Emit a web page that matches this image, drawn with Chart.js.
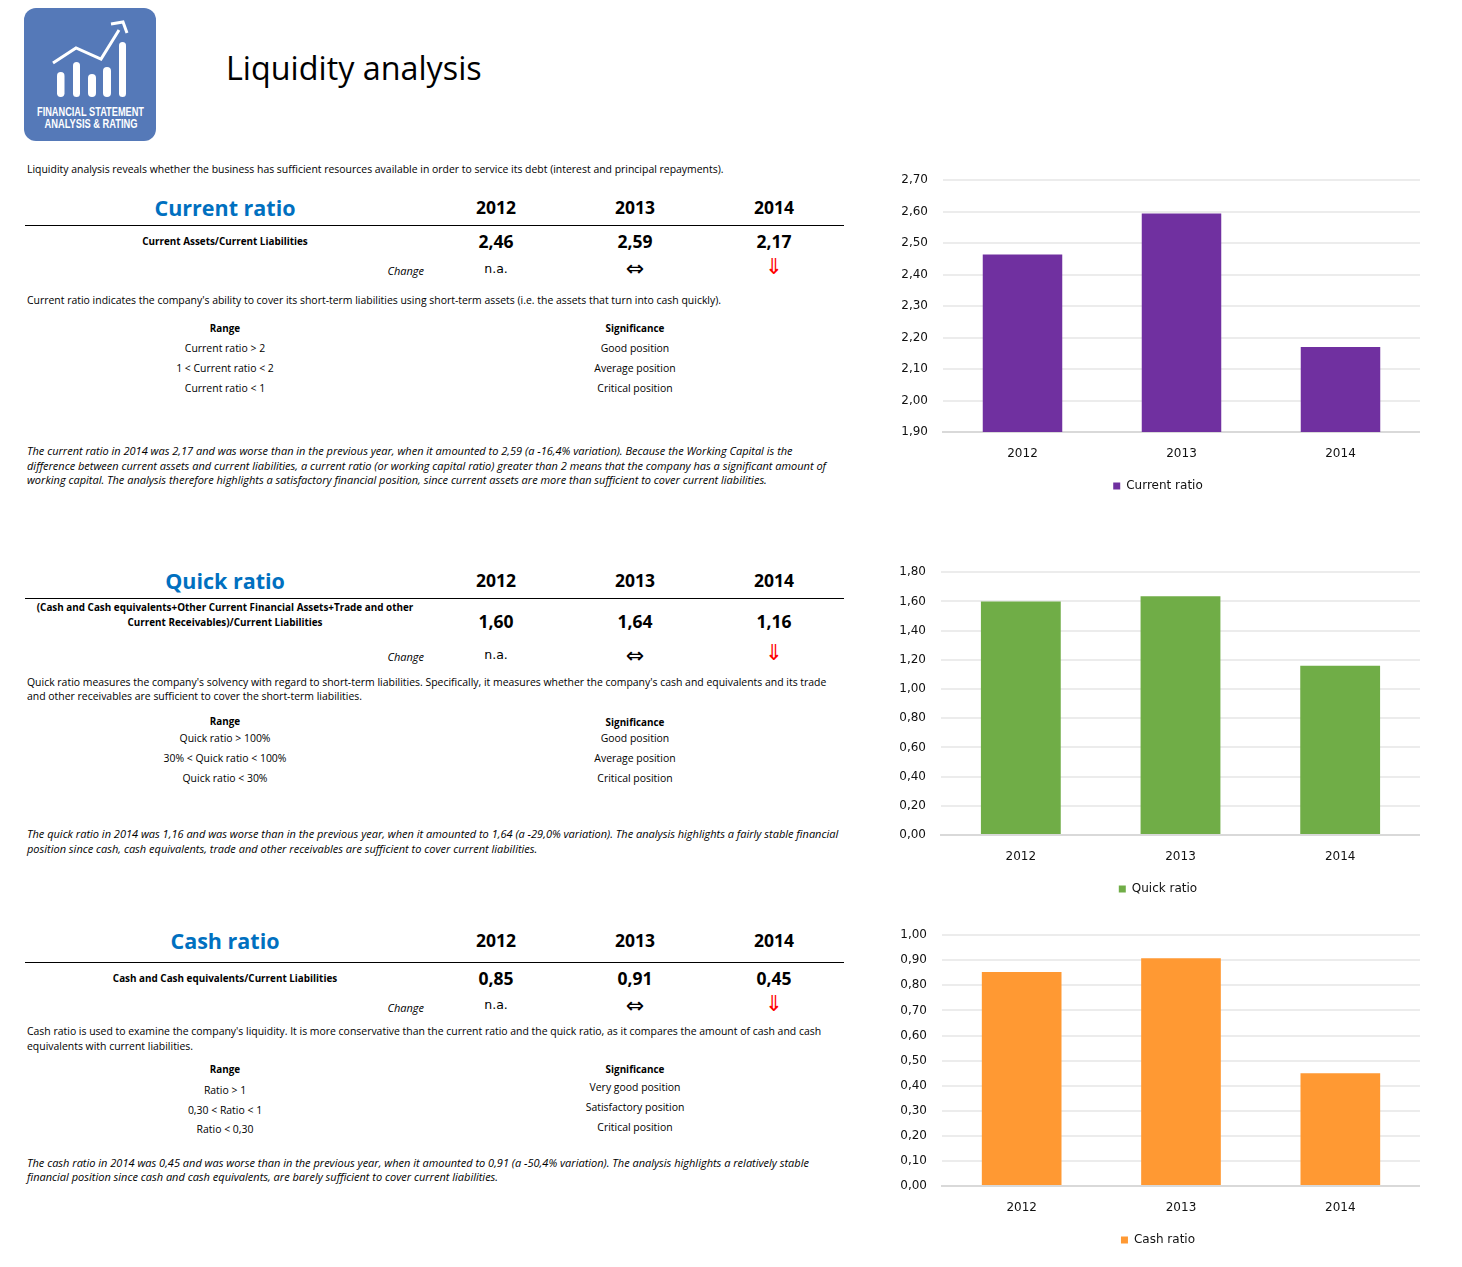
<!DOCTYPE html>
<html>
<head>
<meta charset="utf-8">
<title>Liquidity analysis</title>
<script src="https://cdn.jsdelivr.net/npm/chart.js@4/dist/chart.umd.min.js"></script>
<style>
  body { margin: 0; background: #fff; font-family: "Open Sans", sans-serif; color: #000; }
  #page { position: relative; width: 1462px; height: 1267px; overflow: hidden; }
  #page canvas { position: absolute; }
  .t { position: absolute; white-space: nowrap; font-size: 10.45px; line-height: 16px; transform: translateY(-50%); }
  .c { transform: translate(-50%, -50%); }
  .r { transform: translate(-100%, -50%); }
  .b { font-weight: 700; font-size: 9.9px; }
  .i { font-style: italic; font-size: 11px; }
  .title { font-size: 32.3px; line-height: 40px; }
  .head { font-size: 21.5px; line-height: 30px; font-weight: 700; color: #0070c0; }
  .num { font-size: 17.5px; line-height: 22px; font-weight: 700; }
  .na { font-family: "DejaVu Sans", sans-serif; font-size: 12.5px; }
  .arrow { font-family: "DejaVu Sans", sans-serif; font-size: 22px; line-height: 20px; }
  .down { color: #ff0000; }
  .rule { position: absolute; left: 25px; width: 819px; height: 1px; background: #000; }
</style>
</head>
<body>
<div id="page">
  <svg style="position:absolute;left:24px;top:8px" width="132" height="133" viewBox="0 0 132 133">
    <rect width="132" height="133" rx="12" fill="#5579b8"/>
    <g fill="#fff">
      <rect x="33" y="64" width="7.5" height="25" rx="3.7"/>
      <rect x="49" y="54" width="7" height="35" rx="3.5"/>
      <rect x="64" y="66" width="8" height="23" rx="4"/>
      <rect x="79" y="59" width="8" height="30" rx="4"/>
      <rect x="95" y="34" width="7" height="55" rx="3.5"/>
    </g>
    <path d="M29 55 L52 40 L77 51 L95 22 M87 16 L99 14 L103 25" fill="none" stroke="#fff" stroke-width="3"/>
    <text x="66.5" y="108" text-anchor="middle" fill="#fff" font-family="Liberation Sans Narrow, Liberation Sans" font-weight="700" font-size="12.5" textLength="107" lengthAdjust="spacingAndGlyphs">FINANCIAL STATEMENT</text>
    <text x="67" y="120" text-anchor="middle" fill="#fff" font-family="Liberation Sans Narrow, Liberation Sans" font-weight="700" font-size="12.5" textLength="93" lengthAdjust="spacingAndGlyphs">ANALYSIS &amp; RATING</text>
  </svg>
  <canvas id="currentChart" style="left:896px;top:158px"></canvas>
  <canvas id="quickChart" style="left:896px;top:550px"></canvas>
  <canvas id="cashChart" style="left:896px;top:913px"></canvas>
</div>
<script>
const years = ['2012', '2013', '2014'];
const currentRatio = [2.464, 2.594, 2.17];
const quickRatio = [1.60, 1.636, 1.16];
const cashRatio = [0.853, 0.908, 0.45];

const currentTicks = { min: 1.9, max: 2.7, step: 0.1 };
const quickTicks = { min: 0, max: 1.8, step: 0.2 };
const cashTicks = { min: 0, max: 1, step: 0.1 };

const comma = v => Number(v).toFixed(2).replace('.', ',');
const page = document.getElementById('page');

function put(x, y, text, cls) {
  const el = document.createElement('div');
  el.className = 't ' + (cls || '');
  el.style.left = x + 'px';
  el.style.top = y + 'px';
  el.textContent = text;
  page.appendChild(el);
}

function rule(y) {
  const el = document.createElement('div');
  el.className = 'rule';
  el.style.top = y + 'px';
  page.appendChild(el);
}

// the year / value / change block of one section
function block(name, values, y) {
  put(225, y.head + 1, name, 'c head');
  years.forEach((yr, i) => {
    const x = 496 + i * 139;
    put(x, y.head, yr, 'c num');
    put(x, y.val, comma(values[i]), 'c num');
  });
  rule(y.rule);
  put(424, y.change, 'Change', 'r i');
  put(496, y.na, 'n.a.', 'c na');
  put(635, y.eq, '\u21D4', 'c arrow');
  put(774, y.dn, '\u21D3', 'c arrow down');
}

put(226, 67, 'Liquidity analysis', 'title');
put(27, 169, "Liquidity analysis reveals whether the business has sufficient resources available in order to service its debt (interest and principal repayments).");

block('Current ratio', currentRatio, { head: 207, rule: 225, val: 241, change: 271, na: 269, eq: 269, dn: 267 });
put(225, 241, 'Current Assets/Current Liabilities', 'c b');
put(27, 300, "Current ratio indicates the company's ability to cover its short-term liabilities using short-term assets (i.e. the assets that turn into cash quickly).");
put(225, 328, 'Range', 'c b');
put(635, 328, 'Significance', 'c b');
put(225, 348, 'Current ratio > 2', 'c');
put(225, 368, '1 < Current ratio < 2', 'c');
put(225, 388, 'Current ratio < 1', 'c');
put(635, 348, 'Good position', 'c');
put(635, 368, 'Average position', 'c');
put(635, 388, 'Critical position', 'c');
put(27, 451, "The current ratio in 2014 was 2,17 and was worse than in the previous year, when it amounted to 2,59 (a -16,4% variation). Because the Working Capital is the", 'i');
put(27, 466, "difference between current assets and current liabilities, a current ratio (or working capital ratio) greater than 2 means that the company has a significant amount of", 'i');
put(27, 480, "working capital. The analysis therefore highlights a satisfactory financial position, since current assets are more than sufficient to cover current liabilities.", 'i');

block('Quick ratio', quickRatio, { head: 580, rule: 598, val: 621, change: 657, na: 655, eq: 656, dn: 653 });
put(225, 607, '(Cash and Cash equivalents+Other Current Financial Assets+Trade and other', 'c b');
put(225, 622, 'Current Receivables)/Current Liabilities', 'c b');
put(27, 682, "Quick ratio measures the company's solvency with regard to short-term liabilities. Specifically, it measures whether the company's cash and equivalents and its trade");
put(27, 696, "and other receivables are sufficient to cover the short-term liabilities.");
put(225, 721, 'Range', 'c b');
put(635, 722, 'Significance', 'c b');
put(225, 738, 'Quick ratio > 100%', 'c');
put(225, 758, '30% < Quick ratio < 100%', 'c');
put(225, 778, 'Quick ratio < 30%', 'c');
put(635, 738, 'Good position', 'c');
put(635, 758, 'Average position', 'c');
put(635, 778, 'Critical position', 'c');
put(27, 834, "The quick ratio in 2014 was 1,16 and was worse than in the previous year, when it amounted to 1,64 (a -29,0% variation). The analysis highlights a fairly stable financial", 'i');
put(27, 849, "position since cash, cash equivalents, trade and other receivables are sufficient to cover current liabilities.", 'i');

block('Cash ratio', cashRatio, { head: 940, rule: 962, val: 978, change: 1008, na: 1005, eq: 1006, dn: 1004 });
put(225, 978, 'Cash and Cash equivalents/Current Liabilities', 'c b');
put(27, 1031, "Cash ratio is used to examine the company's liquidity. It is more conservative than the current ratio and the quick ratio, as it compares the amount of cash and cash");
put(27, 1046, "equivalents with current liabilities.");
put(225, 1069, 'Range', 'c b');
put(635, 1069, 'Significance', 'c b');
put(225, 1090, 'Ratio > 1', 'c');
put(225, 1110, '0,30 < Ratio < 1', 'c');
put(225, 1129, 'Ratio < 0,30', 'c');
put(635, 1087, 'Very good position', 'c');
put(635, 1107, 'Satisfactory position', 'c');
put(635, 1127, 'Critical position', 'c');
put(27, 1163, "The cash ratio in 2014 was 0,45 and was worse than in the previous year, when it amounted to 0,91 (a -50,4% variation). The analysis highlights a relatively stable", 'i');
put(27, 1177, "financial position since cash and cash equivalents, are barely sufficient to cover current liabilities.", 'i');

function barChart(id, label, values, color, ticks, height, axisWidth) {
  const canvas = document.getElementById(id);
  canvas.width = 524;
  canvas.height = height;
  return new Chart(canvas.getContext('2d'), {
    type: 'bar',
    data: {
      labels: years,
      datasets: [{
        label: label,
        data: values,
        backgroundColor: color,
        barPercentage: 0.5,
        categoryPercentage: 1
      }]
    },
    options: {
      responsive: false,
      animation: false,
      plugins: {
        tooltip: { enabled: false },
        legend: {
          position: 'bottom',
          labels: {
            boxWidth: 7,
            boxHeight: 7,
            padding: 10,
            color: '#111',
            font: { family: '"DejaVu Sans"', size: 12 }
          }
        }
      },
      scales: {
        x: {
          grid: { display: false },
          border: { color: '#d9d9d9', width: 2 },
          ticks: { color: '#111', padding: 7, font: { family: '"DejaVu Sans"', size: 12 } },
          afterFit: s => { s.height = 38; }
        },
        y: {
          min: ticks.min,
          max: ticks.max,
          afterFit: s => { s.width = axisWidth; },
          border: { display: false },
          grid: { color: '#ececec', lineWidth: 2, drawTicks: false },
          ticks: {
            stepSize: ticks.step,
            padding: 15,
            color: '#111',
            font: { family: '"DejaVu Sans"', size: 12 },
            callback: v => comma(v)
          }
        }
      }
    }
  });
}

barChart('currentChart', 'Current ratio', currentRatio, '#7030a0', currentTicks, 344, 47);
barChart('quickChart', 'Quick ratio', quickRatio, '#70ad47', quickTicks, 355, 45);
barChart('cashChart', 'Cash ratio', cashRatio, '#ff9933', cashTicks, 343, 46);
</script>
</body>
</html>
